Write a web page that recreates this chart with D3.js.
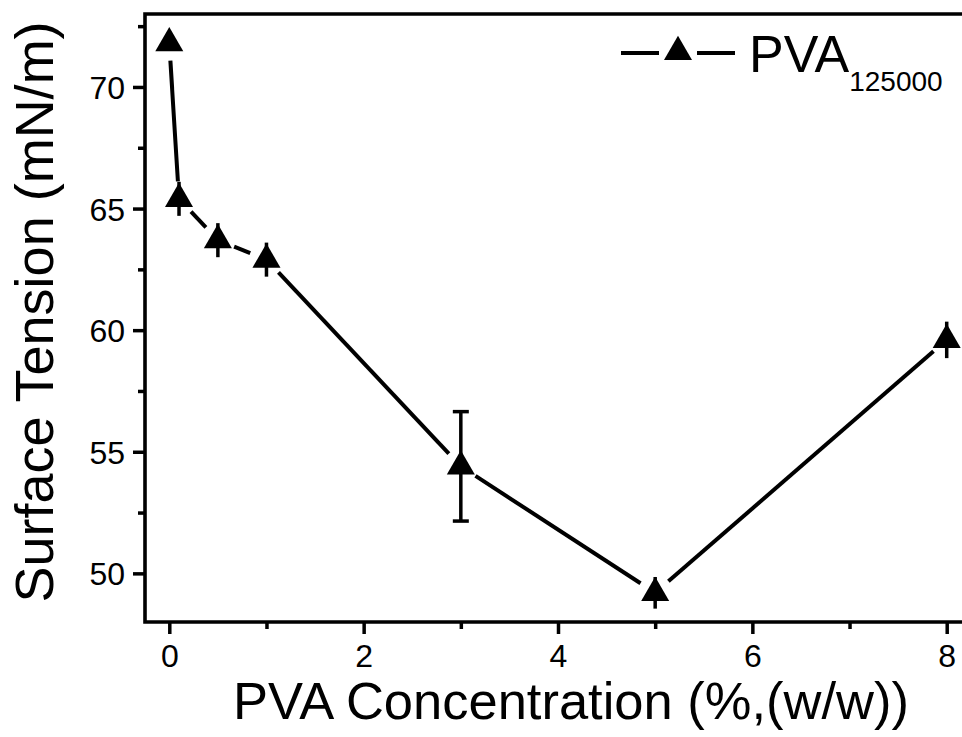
<!DOCTYPE html>
<html>
<head>
<meta charset="utf-8">
<script src="https://cdn.jsdelivr.net/npm/d3@7"></script>
<style>
    body { margin: 0; background: #fff; }
    svg { display: block; }
    text { font-family: "Liberation Sans", Arial, sans-serif; fill: #000; }
</style>
</head>
<body>
<svg id="chart" width="962" height="737"></svg>
<script>
(function(){
    "use strict";

    // data
    var concentration = [0, 0.1, 0.5, 1, 3, 5, 8];
    var tension = [71.8, 65.4, 63.7, 62.9, 54.4, 49.2, 59.6];
    var tensionErr = [0.3, 0.7, 0.7, 0.7, 2.25, 0.65, 0.75];

    var xMajorTicks = [0, 2, 4, 6, 8];
    var xMinorTicks = [1, 3, 5, 7];
    var yMajorTicks = [50, 55, 60, 65, 70];
    var yMinorTicks = [52.5, 57.5, 62.5, 67.5, 72.5];

    var seriesName = "PVA";
    var seriesSub = "125000";

    var left = 145, top = 14, right = 971, bottom = 622;
    var lineGap = 17.5;
    var symbolSize = 340;

    var svg = d3.select("#chart");

    var x = d3.scaleLinear().domain([-0.25, 8.25]).range([left, right]);
    var y = d3.scaleLinear().domain([48, 73]).range([bottom, top]);

    var points = concentration.map(function(c, i){
        return {x: c, y: tension[i], err: tensionErr[i]};
    });

    /*
        axes: frame line plus outward ticks
    */
    var xAxis = d3.axisBottom(x).tickValues(xMajorTicks).tickSize(12).tickPadding(10)
        .tickFormat(d3.format("d"));
    var yAxis = d3.axisLeft(y).tickValues(yMajorTicks).tickSize(12).tickPadding(8)
        .tickFormat(d3.format("d"));

    var gx = svg.append("g").attr("transform", "translate(0," + bottom + ")").call(xAxis);
    var gy = svg.append("g").attr("transform", "translate(" + left + ",0)").call(yAxis);

    svg.append("g").attr("transform", "translate(0," + bottom + ")")
        .call(d3.axisBottom(x).tickValues(xMinorTicks).tickSize(7).tickFormat(""));
    svg.append("g").attr("transform", "translate(" + left + ",0)")
        .call(d3.axisLeft(y).tickValues(yMinorTicks).tickSize(7).tickFormat(""));

    svg.selectAll(".domain").remove();
    svg.selectAll(".tick line").attr("stroke", "#000").attr("stroke-width", 3.5);
    gx.selectAll(".tick text").style("font-size", "32px");
    gy.selectAll(".tick text").style("font-size", "32px").attr("dy", "0.36em");

    // frame: left, bottom, top (right edge falls outside the picture)
    svg.append("path")
        .attr("d", "M" + right + "," + top + "H" + left + "V" + bottom + "H" + right)
        .attr("fill", "none")
        .attr("stroke", "#000")
        .attr("stroke-width", 3.6);

    /*
        connecting line, drawn as segments with a gap around each symbol
    */
    var segments = [];
    for(var i = 0; i < points.length - 1; i++){
        var x1 = x(points[i].x), y1 = y(points[i].y);
        var x2 = x(points[i + 1].x), y2 = y(points[i + 1].y);
        var len = Math.sqrt((x2 - x1) * (x2 - x1) + (y2 - y1) * (y2 - y1));
        if(len <= 2 * lineGap){ continue; }
        var ux = (x2 - x1) / len, uy = (y2 - y1) / len;
        segments.push([x1 + ux * lineGap, y1 + uy * lineGap, x2 - ux * lineGap, y2 - uy * lineGap]);
    }

    svg.append("g").selectAll("line")
        .data(segments)
        .enter().append("line")
        .attr("x1", function(d){ return d[0]; })
        .attr("y1", function(d){ return d[1]; })
        .attr("x2", function(d){ return d[2]; })
        .attr("y2", function(d){ return d[3]; })
        .attr("stroke", "#000")
        .attr("stroke-width", 4);

    /*
        error bars
    */
    var errG = svg.append("g").selectAll("g")
        .data(points)
        .enter().append("g");

    errG.append("line")
        .attr("x1", function(d){ return x(d.x); })
        .attr("x2", function(d){ return x(d.x); })
        .attr("y1", function(d){ return y(d.y + d.err); })
        .attr("y2", function(d){ return y(d.y - d.err); })
        .attr("stroke", "#000")
        .attr("stroke-width", 3.5);

    errG.filter(function(d){ return d.err >= 1; })
        .selectAll(".cap")
        .data(function(d){ return [{x: d.x, v: d.y + d.err}, {x: d.x, v: d.y - d.err}]; })
        .enter().append("line")
        .attr("x1", function(d){ return x(d.x) - 8; })
        .attr("x2", function(d){ return x(d.x) + 8; })
        .attr("y1", function(d){ return y(d.v); })
        .attr("y2", function(d){ return y(d.v); })
        .attr("stroke", "#000")
        .attr("stroke-width", 3.5);

    /*
        triangle symbols
    */
    var tri = d3.symbol().type(d3.symbolTriangle).size(symbolSize);
    svg.append("g").selectAll("path")
        .data(points)
        .enter().append("path")
        .attr("d", tri)
        .attr("transform", function(d){ return "translate(" + x(d.x) + "," + y(d.y) + ")"; })
        .attr("fill", "#000");

    /*
        legend
    */
    var lg = svg.append("g");
    var legX = 678, legY = 52;
    lg.append("line").attr("x1", legX - 57).attr("x2", legX - 19)
        .attr("y1", legY + 1).attr("y2", legY + 1).attr("stroke", "#000").attr("stroke-width", 4);
    lg.append("line").attr("x1", legX + 19).attr("x2", legX + 57)
        .attr("y1", legY + 1).attr("y2", legY + 1).attr("stroke", "#000").attr("stroke-width", 4);
    lg.append("path").attr("d", tri).attr("transform", "translate(" + legX + "," + legY + ")");

    var legText = lg.append("text").attr("x", 749).attr("y", 72).style("font-size", "52px");
    legText.append("tspan").text(seriesName);
    legText.append("tspan").text(seriesSub).attr("dy", 19).style("font-size", "28px");

    /*
        axis titles
    */
    svg.append("text")
        .attr("x", 571)
        .attr("y", 719)
        .attr("text-anchor", "middle")
        .style("font-size", "52.5px")
        .text("PVA Concentration (%,(w/w))");

    svg.append("text")
        .attr("transform", "translate(53,312) rotate(-90)")
        .attr("text-anchor", "middle")
        .style("font-size", "54px")
        .text("Surface Tension (mN/m)");
}());
</script>
</body>
</html>
